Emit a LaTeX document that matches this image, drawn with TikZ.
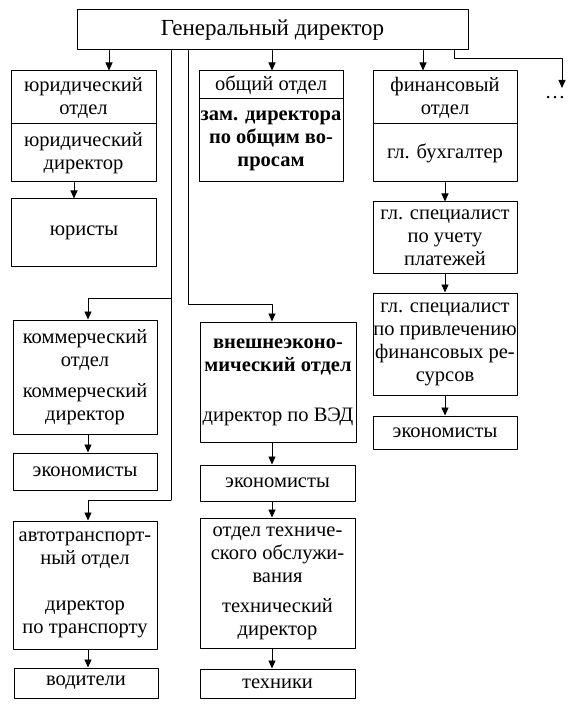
\documentclass[tikz,border=0pt]{standalone}
\usepackage{fontspec}
\setmainfont{Liberation Serif}
\usetikzlibrary{arrows.meta}
\newcommand{\boxfont}{\fontsize{20.5}{23}\selectfont}

\begin{document}
\begin{tikzpicture}[x=1pt, y=-1pt, line cap=round, line join=round,
  box/.style={draw, line width=1pt, align=center, inner sep=0pt, font=\boxfont},
  arr/.style={line width=0.9pt, -{Triangle[length=8pt,width=7pt]}},
  link/.style={line width=0.9pt}]
\useasboundingbox (0,0) rectangle (576,708);

\node[box, minimum width=391pt, minimum height=40pt, font=\fontsize{23}{25}\selectfont] (gen) at (272.5,30) {Генеральный директор};

\node[box, minimum width=145pt, minimum height=53pt] (jur) at (83.5,97.5) {юридический\\отдел};
\node[box, minimum width=145pt, minimum height=58pt] (jurdir) at (83.5,153) {юридический\\директор};
\node[box, minimum width=145pt, minimum height=67pt] (jurists) at (84,232.5) {юристы};

\node[box, minimum width=144pt, minimum height=28pt] (obsh) at (271,85) {общий отдел};
\node[box, minimum width=144pt, minimum height=83pt, font=\boxfont\bfseries] (zam) at (271,140.5) {зам. директора\\по общим во-\\просам};

\node[box, minimum width=144pt, minimum height=53pt] (fin) at (445,97.5) {финансовый\\отдел};
\node[box, minimum width=144pt, minimum height=58pt] (buh) at (445,153) {гл. бухгалтер};
\node[box, minimum width=144pt, minimum height=71pt] (spec1) at (445,237.5) {гл. специалист\\по учету\\платежей};
\node[box, minimum width=144pt, minimum height=102pt] (spec2) at (445,344) {гл. специалист\\по привлечению\\финансовых ре-\\сурсов};
\node[box, minimum width=144pt, minimum height=33pt] (econ3) at (445,432.5) {экономисты};

\node[box, minimum width=144pt, minimum height=114pt] (comm) at (85,377) {коммерческий\\отдел\\[8pt]коммерческий\\директор};
\node[box, minimum width=144pt, minimum height=37pt] (econ1) at (85,471.5) {экономисты};
\node[box, minimum width=144pt, minimum height=128pt] (auto) at (85,585) {автотранспорт-\\ный отдел\\[23pt]директор\\по транспорту};
\node[box, minimum width=144pt, minimum height=30pt] (driv) at (86,683) {водители};

\node[box, minimum width=156pt, minimum height=120pt] (ved) at (278,382) {\textbf{внешнеэконо-}\\\textbf{мический отдел}\\[27pt]директор по ВЭД};
\node[box, minimum width=155pt, minimum height=36pt] (econ2) at (277.5,483) {экономисты};
\node[box, minimum width=155pt, minimum height=130pt] (tech) at (277.5,583) {отдел техниче-\\ского обслужи-\\вания\\[7pt]технический\\директор};
\node[box, minimum width=155pt, minimum height=29pt] (techs) at (277.5,683.5) {техники};

\node[inner sep=0pt, minimum height=18pt, anchor=north, font=\boxfont] (more) at (555,88) {\dots};

\coordinate (xjur) at (109,0);
\coordinate (xjurs) at (74,0);
\coordinate (xleft) at (88,0);
\coordinate (xmid) at (272,0);
\coordinate (xfin) at (423,0);
\coordinate (xmore) at (562,0);
\coordinate (rturn) at (454,58);
\coordinate (ltop) at (171,298);
\coordinate (lbot) at (171,500);
\coordinate (mturn) at (188,304);

\draw[arr] (gen.south -| xjur) -- (jur.north -| xjur);
\draw[arr] (gen.south -| xmid) -- (obsh.north -| xmid);
\draw[arr] (gen.south -| xfin) -- (fin.north -| xfin);
\draw[arr] (gen.south -| rturn) -- (rturn) -| (more.north -| xmore);

\draw[link] (gen.south -| ltop) -- (lbot);
\draw[arr] (ltop) -| (comm.north -| xleft);
\draw[arr] (lbot) -| (auto.north -| xleft);
\draw[arr] (gen.south -| mturn) -- (mturn) -| (ved.north -| xmid);

\draw[arr] (jurdir.south -| xjurs) -- (jurists.north -| xjurs);
\draw[arr] (comm.south -| xleft) -- (econ1.north -| xleft);
\draw[arr] (auto.south -| xleft) -- (driv.north -| xleft);

\draw[arr] (ved.south -| xmid) -- (econ2.north -| xmid);
\draw[arr] (econ2.south -| xmid) -- (tech.north -| xmid);
\draw[arr] (tech.south -| xmid) -- (techs.north -| xmid);

\draw[arr] (buh) -- (spec1);
\draw[arr] (spec1) -- (spec2);
\draw[arr] (spec2) -- (econ3);
\end{tikzpicture}
\end{document}
